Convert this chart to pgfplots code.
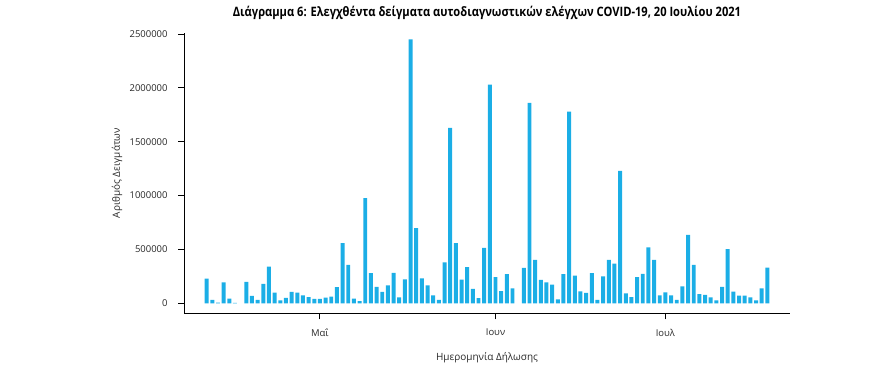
\documentclass[border=0pt]{standalone}
\usepackage{fontspec}
\setmainfont{Open Sans}
\usepackage{pgfplots}
\pgfplotsset{compat=1.18}
\definecolor{barblue}{RGB}{27,174,230}
\definecolor{txt}{RGB}{40,40,40}
\pgfplotstableread{
d v
-20 230000
-19 31000
-18 6000
-17 195000
-16 43000
-15 3000
-13 198000
-12 68000
-11 31000
-10 180000
-9 340000
-8 99000
-7 28000
-6 50000
-5 105000
-4 99000
-3 74000
-2 58000
-1 40000
0 40000
1 52000
2 62000
3 149000
4 558000
5 356000
6 43000
7 21000
8 976000
9 279000
10 152000
11 106000
12 167000
13 282000
14 56000
15 223000
16 2450000
17 697000
18 232000
19 167000
20 74000
21 31000
22 381000
23 1630000
24 558000
25 219000
26 335000
27 133000
28 49000
29 514000
30 2030000
31 242000
32 114000
33 270000
34 139000
36 328000
37 1860000
38 402000
39 217000
40 195000
41 173000
42 37000
43 270000
44 1780000
45 257000
46 111000
47 96000
48 279000
49 31000
50 251000
51 402000
52 368000
53 1230000
54 93000
55 58000
56 242000
57 272000
58 520000
59 402000
60 74000
61 102000
62 74000
63 31000
64 158000
65 635000
66 356000
67 86000
68 77000
69 56000
70 28000
71 152000
72 502000
73 108000
74 71000
75 71000
76 56000
77 28000
78 139000
79 331000
}\datatable
\begin{document}
\begin{tikzpicture}[x=1bp,y=1bp]
\useasboundingbox (0,0) rectangle (883,382);
\begin{axis}[
  at={(184bp,68.7bp)}, anchor=south west,
  scale only axis, width=606bp, height=280.3bp,
  xmin=-24, xmax=83, ymin=-93000, ymax=2510000,
  axis x line*=bottom, axis y line*=left,
  axis line style={line width=0.9bp, black},
  tick align=outside, major tick length=6bp,
  tick style={line width=0.9bp, black},
  scaled y ticks=false,
  xtick={0,31,61}, xticklabels={Μαΐ,Ιουν,Ιουλ},
  ytick={0,500000,1000000,1500000,2000000,2500000},
  yticklabels={0,500000,1000000,1500000,2000000,2500000},
  ticklabel style={font=\fontsize{9.5}{11}\selectfont, text=txt},
  yticklabel style={xshift=-7bp},
  xticklabel style={yshift=-6bp},
  xlabel={Ημερομηνία Δήλωσης},
  ylabel={Αριθμός Δειγμάτων},
  label style={font=\fontsize{10}{12}\selectfont, text=txt},
  xlabel style={at={(axis description cs:0.5,-0.158)}, anchor=center},
  ylabel style={at={(axis description cs:-0.1106,0.5)}, anchor=center, rotate=0},
  title={\scalebox{0.86}[1]{\fontsize{13}{15}\selectfont\bfseries Διάγραμμα 6: Ελεγχθέντα δείγματα αυτοδιαγνωστικών ελέγχων COVID-19, 20 Ιουλίου 2021}},
  title style={at={(axis description cs:0.5,1.05)}, anchor=center, text=black},
]
\addplot[ybar, bar width=0.7, fill=barblue, draw=none] table[x=d, y=v] {\datatable};
\end{axis}
\end{tikzpicture}
\end{document}
